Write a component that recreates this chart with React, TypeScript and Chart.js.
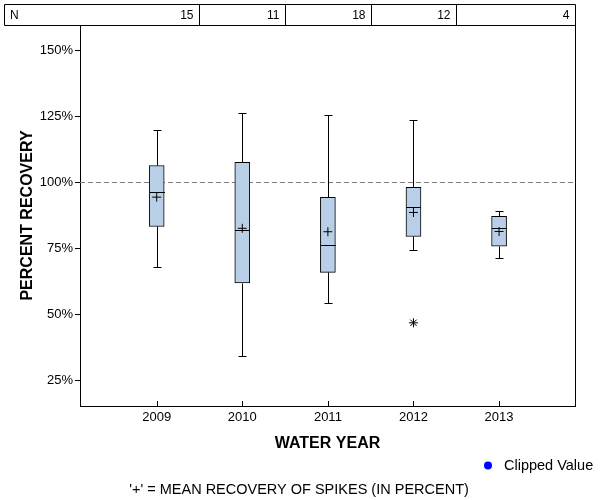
import React, { useEffect, useRef } from 'react';
import { Chart, registerables } from 'chart.js';

Chart.register(...registerables);

// ---- data ----
const years = [2009, 2010, 2011, 2012, 2013];
const counts = [15, 11, 18, 12, 4];
const whiskerLow = [67.9, 34.1, 54.3, 74.2, 71.2];
const q1 = [83.3, 61.9, 65.9, 79.5, 75.8];
const median = [96.3, 82.0, 76.1, 90.5, 82.6];
const q3 = [106.4, 107.6, 94.3, 98.1, 87.1];
const whiskerHigh = [119.7, 126.1, 125.4, 123.5, 89.0];
const means = [94.4, 82.6, 81.3, 88.6, 81.4];
const outlierYears = [2012];
const outlierValues = [46.8];
const yTicks = [25, 50, 75, 100, 125, 150];
const referenceValue = 100;
const yMin = 15.3;
const yMax = 159.6;
const xMin = 2008.104;
const xMax = 2013.887;

const FONT = "'Liberation Sans', Arial, sans-serif";

const extrasPlugin = {
  id: 'boxExtras',
  beforeDatasetsDraw(chart: any) {
    const { ctx, chartArea } = chart;
    const y = Math.round(chart.scales.y.getPixelForValue(referenceValue)) + 0.5;
    ctx.save();
    ctx.strokeStyle = '#808080';
    ctx.lineWidth = 1;
    ctx.setLineDash([5, 3]);
    ctx.beginPath();
    ctx.moveTo(chartArea.left, y);
    ctx.lineTo(chartArea.right, y);
    ctx.stroke();
    ctx.restore();
  },
  afterDatasetsDraw(chart: any) {
    const { ctx } = chart;
    const xs = chart.scales.x;
    const ys = chart.scales.y;
    ctx.save();
    ctx.strokeStyle = '#000';
    ctx.lineWidth = 1;
    years.forEach((yr, i) => {
      const cx = Math.round(xs.getPixelForValue(yr)) + 0.5;
      const py = (v: number) => Math.round(ys.getPixelForValue(v)) + 0.5;
      ctx.beginPath();
      ctx.moveTo(cx, py(q3[i]));
      ctx.lineTo(cx, py(whiskerHigh[i]));
      ctx.moveTo(cx - 4, py(whiskerHigh[i]));
      ctx.lineTo(cx + 4, py(whiskerHigh[i]));
      ctx.moveTo(cx, py(q1[i]));
      ctx.lineTo(cx, py(whiskerLow[i]));
      ctx.moveTo(cx - 4, py(whiskerLow[i]));
      ctx.lineTo(cx + 4, py(whiskerLow[i]));
      ctx.moveTo(cx - 7.5, py(median[i]));
      ctx.lineTo(cx + 7.5, py(median[i]));
      ctx.stroke();
    });
    ctx.restore();
  },
  afterDraw(chart: any) {
    const { ctx, chartArea } = chart;
    const xs = chart.scales.x;
    ctx.save();
    ctx.strokeStyle = '#000';
    ctx.lineWidth = 1;
    const rx = Math.round(chartArea.right) + 0.5;
    ctx.beginPath();
    ctx.moveTo(rx, chartArea.top);
    ctx.lineTo(rx, chartArea.bottom);
    ctx.stroke();
    const by = Math.round(chartArea.bottom);
    ctx.beginPath();
    years.forEach((yr) => {
      const x = Math.round(xs.getPixelForValue(yr)) + 0.5;
      ctx.moveTo(x, by - 5);
      ctx.lineTo(x, by);
    });
    ctx.stroke();

    // N table
    const tTop = 4.5;
    const tBot = Math.round(chartArea.top) + 0.5;
    const tLeft = 4.5;
    const borders = years.slice(0, -1).map((yr) => Math.round(xs.getPixelForValue(yr + 0.5)) + 0.5);
    ctx.beginPath();
    ctx.rect(tLeft, tTop, rx - tLeft, tBot - tTop);
    borders.forEach((b) => {
      ctx.moveTo(b, tTop);
      ctx.lineTo(b, tBot);
    });
    ctx.stroke();
    ctx.fillStyle = '#000';
    ctx.font = `12px ${FONT}`;
    ctx.textBaseline = 'middle';
    const ty = (tTop + tBot) / 2 + 0.5;
    ctx.textAlign = 'left';
    ctx.fillText('N', 10, ty);
    ctx.textAlign = 'right';
    const rights = [...borders, rx];
    counts.forEach((c, i) => {
      ctx.fillText(String(c), rights[i] - 6, ty);
    });

    // legend: clipped value
    ctx.fillStyle = '#0000ff';
    ctx.beginPath();
    ctx.arc(488, 465.5, 4, 0, Math.PI * 2);
    ctx.fill();
    ctx.fillStyle = '#000';
    ctx.font = `14.5px ${FONT}`;
    ctx.textAlign = 'left';
    ctx.fillText('Clipped Value', 504, 466);

    // footnote
    ctx.textAlign = 'center';
    ctx.fillText("'+' = MEAN RECOVERY OF SPIKES (IN PERCENT)", 299, 490);
    ctx.restore();
  },
};

export default function App() {
  const canvasRef = useRef<HTMLCanvasElement | null>(null);

  useEffect(() => {
    document.body.style.margin = '0';
    const canvas = canvasRef.current;
    if (!canvas) return;
    const chart = new Chart(canvas, {
      type: 'bar',
      data: {
        datasets: [
          {
            type: 'bar',
            label: 'IQR',
            data: years.map((yr, i) => ({ x: yr, y: [q1[i], q3[i]] })) as any,
            backgroundColor: '#b9cfe8',
            borderColor: '#000',
            borderWidth: 1,
            borderSkipped: false,
            barThickness: 15,
            order: 3,
          } as any,
          {
            type: 'scatter',
            label: 'Mean',
            data: years.map((yr, i) => ({ x: yr, y: means[i] })),
            pointStyle: 'cross',
            pointRadius: 4.5,
            borderColor: '#000',
            borderWidth: 1,
            showLine: false,
            order: 1,
          } as any,
          {
            type: 'scatter',
            label: 'Outlier',
            data: outlierYears.map((yr, i) => ({ x: yr, y: outlierValues[i] })),
            pointStyle: 'star',
            pointRadius: 4.5,
            borderColor: '#000',
            borderWidth: 1,
            showLine: false,
            order: 1,
          } as any,
        ],
      },
      options: {
        responsive: false,
        animation: false,
        events: [],
        layout: { padding: { top: 25, right: 25, left: 0, bottom: 0 } },
        plugins: {
          legend: { display: false },
          tooltip: { enabled: false },
          title: { display: false },
        },
        scales: {
          x: {
            type: 'linear',
            offset: false,
            min: xMin,
            max: xMax,
            afterBuildTicks: (s: any) => {
              s.ticks = years.map((v) => ({ value: v }));
            },
            afterFit: (s: any) => {
              s.height = 94;
            },
            ticks: {
              callback: (v: any) => String(v),
              font: { family: FONT, size: 13 },
              color: '#000',
              padding: 4,
              maxRotation: 0,
            },
            grid: { drawOnChartArea: false, drawTicks: false, offset: false },
            border: { display: true, color: '#000', width: 1 },
            title: {
              display: true,
              text: 'WATER YEAR',
              font: { family: FONT, size: 16, weight: 'bold' },
              color: '#000',
              padding: { top: 0, bottom: 47 },
            },
          },
          y: {
            type: 'linear',
            min: yMin,
            max: yMax,
            afterBuildTicks: (s: any) => {
              s.ticks = yTicks.map((v) => ({ value: v }));
            },
            afterFit: (s: any) => {
              s.width = 80;
            },
            ticks: {
              callback: (v: any) => v + '%',
              font: { family: FONT, size: 13 },
              color: '#000',
              padding: 2,
            },
            grid: { drawOnChartArea: false, drawTicks: true, tickLength: 5, color: '#000' },
            border: { display: true, color: '#000', width: 1 },
            title: {
              display: true,
              text: 'PERCENT RECOVERY',
              font: { family: FONT, size: 16, weight: 'bold' },
              color: '#000',
              padding: { top: 18, bottom: 0 },
            },
          },
        },
      } as any,
      plugins: [extrasPlugin],
    });
    return () => chart.destroy();
  }, []);

  return (
    <div style={{ position: 'absolute', left: 0, top: 0, width: 600, height: 500, background: '#fff' }}>
      <canvas ref={canvasRef} width={600} height={500} style={{ display: 'block' }} />
    </div>
  );
}
